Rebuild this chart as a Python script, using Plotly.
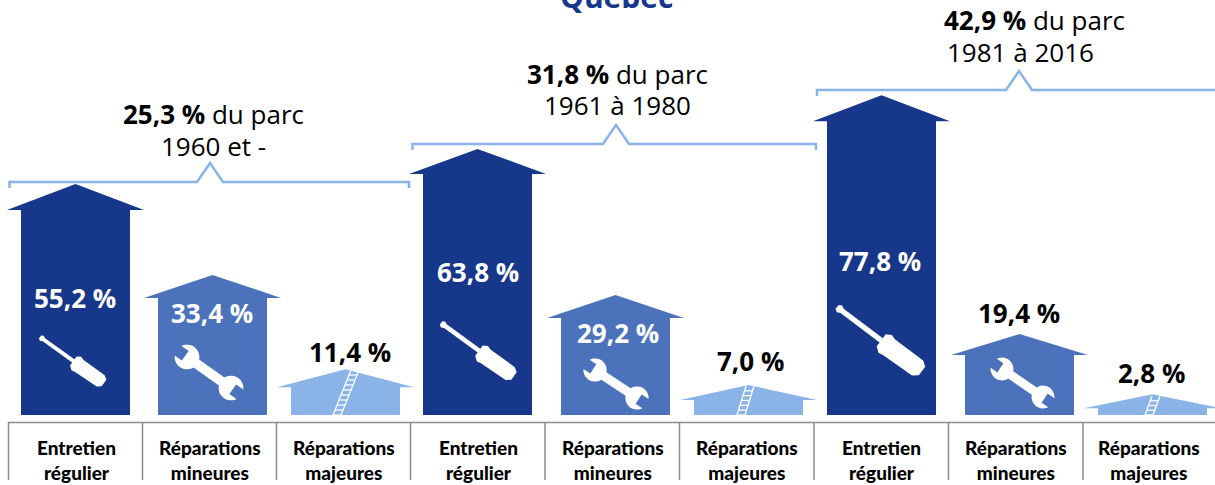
import numpy as np
import plotly.graph_objects as go

WIDTH = 1215
HEIGHT = 485

# data
categories = ["Entretien<br>régulier", "Réparations<br>mineures", "Réparations<br>majeures"] * 3
values = [55.2, 33.4, 11.4, 63.8, 29.2, 7.0, 77.8, 19.4, 2.8]
# height the houses are really drawn at (the small ones are not quite to scale)
drawn_heights = [55.4, 33.6, 11.0, 63.8, 28.8, 7.2, 76.7, 19.4, 5.0]
group_shares = ["25,3 %", "31,8 %", "42,9 %"]
group_periods = ["1960 et -", "1961 à 1980", "1981 à 2016"]

# layout, in page pixels
BASE_PX = 415
PX_PER_UNIT = 4.17
centers = [75.5, 212.5, 345.5, 477.5, 615.5, 748.5, 881.5, 1019.5, 1152.5]
roof_px = [26, 23, 18, 25, 23, 15, 26, 21, 14]
label_px = [298, 313, 352, 272, 333, 361, 261, 313, 373]
label_x = [75, 212, 350, 478, 618, 750, 880, 1019, 1151]
cell_lines = [8.5, 142.5, 276.5, 410.5, 545, 679.5, 814, 948.5, 1083]
cell_centers = [76, 210, 344, 478, 613, 747, 881, 1016, 1149]

DARK = "#16378A"
MID = "#4C72BC"
LIGHT = "#8AB4E8"
colors = [DARK, MID, LIGHT] * 3
text_colors = ["white", "white", "black", "white", "white", "black", "white", "black", "black"]

FONT = "Open Sans"
NARROW = "Lato"


def py(px):
    # page pixel row to paper fraction
    return 1 - px / HEIGHT


def poly(points, fill):
    d = "M" + " L".join(f"{x:.2f},{py(y):.5f}" for x, y in points) + " Z"
    return dict(type="path", path=d, xref="x", yref="paper", fillcolor=fill,
                line_width=0, layer="above")


def line(x0, y0, x1, y1, color, width):
    return dict(type="line", x0=x0, x1=x1, y0=py(y0), y1=py(y1), xref="x", yref="paper",
                line=dict(color=color, width=width), layer="above")


def place(local, start, end):
    # local shape runs along +x from 0 to 1, unit = length of the icon
    start = np.array(start, float)
    end = np.array(end, float)
    ax = end - start
    norm = np.array([-ax[1], ax[0]])
    return [tuple(start + ax * x + norm * y) for x, y in local]


screwdriver_shape = [
    (0, -.025), (.03, -.04), (.06, -.025), (.52, -.025), (.52, -.07), (.57, -.1),
    (.62, -.085), (.95, -.085), (1, -.05), (1, .05), (.95, .09), (.62, .1),
    (.57, .11), (.52, .07), (.52, .025), (.06, .025), (.03, .04), (0, .025),
]


def wrench_shape():
    # two open heads joined by a handle, both notches facing outwards
    r, hw, nw = .23, .09, .11
    pts = []
    a0 = np.arcsin(hw / r)
    n0 = np.arcsin(nw / r)
    # head at x=0, going round from the handle to the notch
    for a in np.linspace(a0, np.pi - n0, 14):
        pts.append((r * np.cos(a), r * np.sin(a)))
    pts += [(-.04, nw), (-.04, -nw)]
    for a in np.linspace(np.pi + n0, 2 * np.pi - a0, 14):
        pts.append((r * np.cos(a), r * np.sin(a)))
    # head at x=1
    for a in np.linspace(np.pi + a0, 2 * np.pi - n0, 14):
        pts.append((1 + r * np.cos(a), r * np.sin(a)))
    pts += [(1.04, -nw), (1.04, nw)]
    for a in np.linspace(n0, np.pi - a0, 14):
        pts.append((1 + r * np.cos(a), r * np.sin(a)))
    return pts


def ladder(top, bottom, half):
    out = []
    top = np.array(top, float)
    bottom = np.array(bottom, float)
    n = int(np.hypot(*(bottom - top)) / 5)
    ax = bottom - top
    for side in (-half, half):
        out.append(line(top[0] + side, top[1], bottom[0] + side, bottom[1], "white", 1.3))
    for t in np.linspace(0, 1, n + 1)[1:]:
        p = top + ax * t
        out.append(line(p[0] - half, p[1], p[0] + half, p[1], "white", 1.3))
    return out


def brace(x0, x1, peak, row):
    pts = [(x0, row + 6), (x0, row), (peak - 13, row), (peak, row - 19), (peak + 13, row),
           (x1, row), (x1, row + 6)]
    d = "M" + " L".join(f"{x},{py(y):.5f}" for x, y in pts)
    return dict(type="path", path=d, xref="x", yref="paper",
                line=dict(color=LIGHT, width=2.5), layer="above")


fig = go.Figure()
y_units = [r / PX_PER_UNIT for r in roof_px]

# walls, a bit taller than the eaves so no seam shows under the roof
fig.add_trace(go.Bar(
    x=centers,
    y=[h - r + 0.2 for h, r in zip(drawn_heights, y_units)],
    width=109,
    marker=dict(color=colors, line_width=0),
    hoverinfo="skip",
))
# roofs
for c, h, r, col in zip(centers, drawn_heights, y_units, colors):
    fig.add_trace(go.Scatter(
        x=[c - 68.5, c, c + 68.5, c - 68.5],
        y=[h - r, h, h - r, h - r],
        mode="lines", fill="toself", fillcolor=col, line_width=0,
        hoverinfo="skip",
    ))

shapes = []
for x0, x1, peak, row in [(9.5, 409, 210, 182), (412.5, 816, 616, 144), (817, 1225, 1019, 90)]:
    shapes.append(brace(x0, x1, peak, row))

# screwdrivers
for start, end in [((40, 337), (104, 383)), ((441, 323), (514, 376)), ((837, 307), (922, 371))]:
    shapes.append(poly(place(screwdriver_shape, start, end), "white"))
# wrenches
for start, end in [((187, 357), (231, 388)), ((595, 370), (637, 398)), ((1002, 369), (1043, 397))]:
    shapes.append(poly(place(wrench_shape(), start, end), "white"))
# ladders
for top, bottom in [((355, 370), (337, 415)), ((750, 386), (741, 415)), ((1156, 396), (1149, 415))]:
    shapes += ladder(top, bottom, 4)

# table under the houses
GREY = "#8C8C8C"
shapes.append(line(8, 422.5, 1225, 422.5, GREY, 1.5))
for x in cell_lines:
    shapes.append(line(x, 422.5, x, 480, GREY, 1.5))


def note(text, x, y, family, size, color, weight="normal"):
    return dict(text=text, x=x, y=py(y), xref="x", yref="paper", showarrow=False,
                xanchor="center", yanchor="middle",
                font=dict(family=family, size=size, color=color, weight=weight))


annotations = []
for val, x, y, col in zip(values, label_x, label_px, text_colors):
    annotations.append(note(f"<b>{val:.1f} %</b>".replace(".", ","), x, y, FONT, 26, col))
for cat, x in zip(categories, cell_centers):
    annotations.append(note(cat, x, 459.5, NARROW, 19, "black", weight=900))
# the two lines of the group headers do not share a centre in the last group
for share, x, y in zip(group_shares, [213, 617, 1034], [114, 74, 20]):
    annotations.append(note(f"<b>{share}</b> du parc", x, y, FONT, 26, "black"))
for period, x, y in zip(group_periods, [213, 617, 1020], [146, 105, 52]):
    annotations.append(note(period, x, y, FONT, 26, "black"))
annotations.append(note("<b>Québec</b>", 616, -4, FONT, 30, DARK))

fig.update_layout(
    width=WIDTH, height=HEIGHT,
    margin=dict(l=0, r=0, t=0, b=0),
    showlegend=False,
    plot_bgcolor="white", paper_bgcolor="white",
    xaxis=dict(range=[0, WIDTH], visible=False, fixedrange=True),
    yaxis=dict(range=[-(HEIGHT - BASE_PX) / PX_PER_UNIT, BASE_PX / PX_PER_UNIT],
               visible=False, fixedrange=True),
    shapes=shapes,
    annotations=annotations,
)

fig.write_html("out.html", config=dict(displayModeBar=False),
               post_script="document.body.style.margin='0';")
